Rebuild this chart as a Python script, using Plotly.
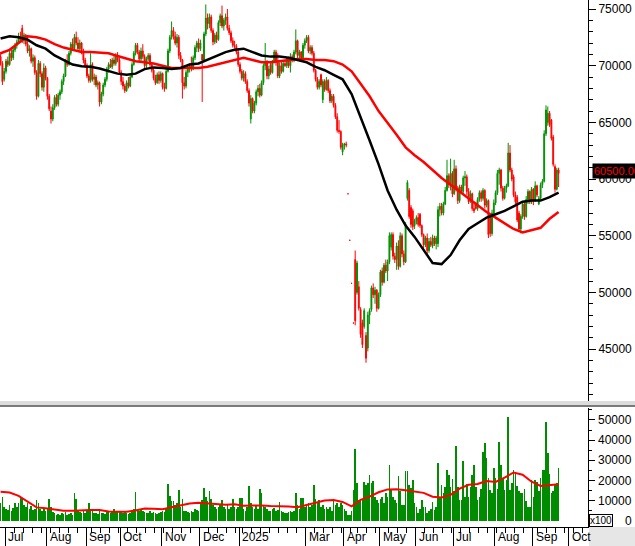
import pandas as pd
import plotly.graph_objects as go

# ---------------- data (prices in VND, volume in x100 shares) ----------------
holidays = ["2024-09-02", "2024-09-03", "2025-01-01", "2025-01-27", "2025-01-28",
            "2025-01-29", "2025-01-30", "2025-01-31", "2025-04-07", "2025-04-30",
            "2025-05-01", "2025-05-02", "2025-09-01", "2025-09-02"]

# (open, high, low, close) per trading day, grouped by month
jun24 = [(70800, 71200, 70000, 70200), (70200, 70400, 68300, 68600), (68800, 69800, 68600, 69500)]
jul24 = [(69500, 70600, 69300, 70400), (70400, 70800, 69900, 70100), (70100, 71300, 70000, 71100),
         (71100, 71400, 70400, 70700), (70700, 71600, 70500, 71400), (71400, 72000, 71200, 71800),
         (71800, 72300, 71500, 72100), (72100, 72900, 71900, 72600), (72600, 73000, 72000, 72300),
         (73300, 73600, 72000, 72200), (72200, 72900, 71900, 72700), (72700, 72800, 71700, 71900),
         (71900, 72700, 71100, 71300), (71300, 71800, 70800, 71500), (71500, 71600, 70200, 70400),
         (70400, 71000, 69900, 70700), (70700, 70900, 69200, 69400), (69400, 69600, 67000, 67300),
         (67300, 70500, 67200, 70200), (70200, 70400, 69000, 69300), (69300, 69500, 67800, 68100),
         (68100, 70200, 67700, 69800), (69800, 70000, 68700, 68900)]
aug24 = [(68900, 69000, 67000, 67300), (67300, 67500, 66000, 66200), (66000, 66400, 64900, 65300),
         (65300, 66600, 65100, 66300), (66300, 67400, 66100, 67200), (67200, 67500, 66400, 66600),
         (66600, 67600, 66400, 67400), (67400, 67900, 67000, 67700), (67700, 68800, 67500, 68600),
         (68600, 69300, 68300, 69100), (69100, 70600, 69000, 70400), (70400, 71000, 69900, 70100),
         (70100, 71300, 70000, 71100), (71100, 72100, 70900, 71900), (71900, 72400, 71300, 71500),
         (71500, 72800, 71400, 72500), (72500, 73000, 71800, 72000), (72000, 72500, 71300, 71500),
         (71500, 72300, 71300, 72000), (72000, 72100, 71000, 71200), (71200, 71500, 70200, 70500),
         (70500, 70700, 69800, 70000)]
sep24 = [(70000, 70200, 68900, 69100), (69100, 69300, 68500, 68700), (68700, 71100, 68500, 70100),
         (70100, 70300, 68600, 68800), (68800, 69300, 68300, 69000), (69000, 69200, 68100, 68300),
         (68300, 68700, 67900, 68500), (68500, 68600, 66400, 66800), (66800, 67700, 66600, 67500),
         (67500, 68500, 67300, 68300), (68300, 69000, 68100, 68800), (68800, 69900, 68600, 69700),
         (69700, 70300, 69400, 70100), (70100, 70600, 69800, 69900), (69900, 70700, 69700, 70500),
         (70500, 70900, 70000, 70200), (70200, 71100, 70000, 70900), (70900, 71200, 70300, 70500),
         (70500, 70700, 69200, 69400)]
oct24 = [(69400, 69600, 68300, 68600), (68600, 69000, 67900, 68200), (68200, 68400, 67600, 67800),
         (67800, 68700, 67700, 68500), (68500, 69000, 68000, 68200), (68200, 69200, 68100, 69000),
         (69000, 70300, 68900, 70100), (70100, 71300, 70000, 71100), (71100, 72000, 70900, 71800),
         (71800, 72000, 71000, 71200), (71200, 71400, 70400, 70600), (70600, 71600, 70400, 71300),
         (71300, 71900, 70600, 70800), (70800, 71000, 69800, 70000), (70000, 70800, 69800, 70600),
         (70600, 71100, 70400, 70900), (70900, 71100, 69900, 70100), (70100, 70300, 69400, 69600),
         (69600, 69800, 68700, 68900), (68900, 69200, 68300, 68500), (68500, 69400, 68400, 69200),
         (69200, 69500, 68400, 68700), (68700, 69500, 68500, 69300)]
nov24 = [(69300, 69400, 67900, 68100), (68100, 68500, 67700, 68000), (68000, 69800, 67900, 69500),
         (69500, 71500, 69400, 71300), (71300, 72700, 71100, 72500), (72500, 73900, 72300, 73100),
         (73100, 73400, 72300, 72600), (72600, 73000, 71800, 72000), (72000, 72800, 71600, 72500),
         (72500, 72700, 70600, 70900), (70900, 71200, 70300, 70500), (70500, 70600, 67100, 68500),
         (68500, 69000, 67900, 68200), (68200, 69600, 68000, 69400), (69400, 70000, 69000, 69800),
         (69800, 70200, 69400, 70000), (70000, 70800, 69500, 69700), (69700, 70900, 69600, 70700),
         (70700, 71800, 70500, 71600), (71600, 72200, 71200, 72000), (72000, 72400, 71200, 71500)]
dec24 = [(71500, 72300, 71300, 72000), (71000, 71000, 66800, 70500), (70500, 73000, 70400, 72800),
         (72800, 75400, 72600, 74200), (74200, 74600, 73200, 73700), (73700, 74600, 73300, 74300),
         (74300, 74500, 72900, 73100), (73100, 73300, 71800, 72100), (72100, 72900, 71900, 72700),
         (72700, 73000, 72000, 72300), (72300, 74000, 72200, 73800), (73800, 74600, 73500, 74400),
         (74400, 75300, 73300, 73500), (73500, 74200, 73100, 74000), (74000, 74600, 73600, 74300),
         (74300, 75000, 73100, 73300), (73300, 73600, 72700, 72900), (72900, 73100, 72000, 72200),
         (72200, 72500, 71600, 71800), (71800, 72200, 71500, 71700), (71700, 71900, 71000, 71200),
         (71200, 71500, 69900, 70100)]
jan25 = [(70100, 70300, 69300, 69500), (69500, 69700, 68700, 68900), (68900, 69600, 68600, 69300),
         (69300, 69500, 68400, 68600), (68600, 68800, 67600, 67800), (67800, 68000, 66400, 66700),
         (65300, 67400, 64900, 67100), (67100, 67200, 65800, 66000), (66000, 66900, 65800, 66700),
         (66700, 67900, 66500, 67700), (67700, 68300, 67300, 68000), (68000, 68400, 67200, 67400),
         (67400, 68700, 67300, 68500), (68500, 70200, 68300, 70000), (70000, 72000, 69600, 70300),
         (70300, 70500, 68800, 69100), (69100, 70000, 68800, 69700)]
feb25 = [(70100, 70300, 69200, 69400), (69400, 70500, 69300, 70300), (70300, 71400, 70200, 71200),
         (71200, 71400, 70000, 70300), (70300, 71100, 68900, 69100), (69100, 70300, 68900, 70000),
         (70000, 70500, 69300, 69500), (69500, 70400, 69400, 70200), (70200, 70500, 69900, 70000),
         (70000, 70700, 69800, 70500), (70500, 70800, 69800, 70000), (70000, 71100, 69400, 70800),
         (70800, 71000, 70300, 70500), (70500, 71400, 70300, 71200), (71200, 73200, 71000, 72200),
         (72200, 72300, 70600, 70900), (70900, 71400, 70500, 71200), (71200, 71300, 70500, 70700),
         (70700, 72000, 70600, 71800), (71800, 72400, 71500, 72200)]
mar25 = [(72200, 72700, 72000, 72500), (72500, 72700, 71100, 71300), (71300, 71800, 71000, 71600),
         (71600, 71800, 70900, 71100), (71100, 71300, 69400, 69600), (69600, 69700, 68600, 68800),
         (68800, 69000, 67900, 68100), (68100, 68800, 67900, 68600), (69200, 69300, 68100, 68300),
         (67000, 68800, 66700, 68600), (68600, 68800, 67700, 67900), (67900, 69000, 67800, 68700),
         (68700, 68800, 67600, 67800), (67800, 68000, 66700, 66900), (66900, 67500, 66700, 67300),
         (67300, 67500, 66300, 66500), (66500, 66700, 65300, 65500), (65500, 65800, 64100, 64300),
         (64300, 65200, 64000, 64200), (64200, 64300, 62600, 62800), (62400, 63200, 62100, 63000)]
apr25 = [(63000, 63200, 62600, 63100), (63100, 63300, 62800, 63000), (58700, 58700, 58700, 58700),
         (54600, 54600, 54600, 54600), (50800, 50800, 50800, 50800), (47300, 47300, 47300, 47300),
         (52900, 53700, 47100, 47500), (50000, 52800, 49800, 52600), (50500, 51000, 48400, 48600),
         (48500, 48700, 46000, 46300), (47300, 47600, 45100, 45400), (47000, 48600, 46800, 48400),
         (46200, 46500, 43800, 44200), (45100, 48300, 44800, 48000), (48000, 48600, 47200, 48400),
         (48500, 50600, 48300, 50400), (50400, 50800, 49500, 49800), (49800, 50500, 49000, 50200),
         (50200, 50300, 48300, 48600), (48600, 50000, 48500, 49800)]
may25 = [(49800, 52000, 49600, 51800), (51900, 52200, 50600, 50900), (50900, 52600, 50800, 52400),
         (52400, 52900, 51700, 51900), (51900, 52900, 51000, 52700), (52700, 55300, 52500, 55000),
         (54000, 55300, 53700, 55100), (55100, 55300, 52900, 53200), (53200, 53500, 52600, 52900),
         (52900, 54400, 52000, 54100), (54100, 54600, 52000, 52300), (52300, 55300, 52200, 55000),
         (55000, 55200, 53100, 53400), (53400, 53700, 52400, 52700), (52700, 56200, 52600, 56000),
         (58300, 59900, 58100, 59700), (59000, 59200, 56500, 56700), (57500, 57700, 55700, 56000),
         (57200, 57400, 55500, 55800), (55900, 56500, 55600, 56300)]
jun25 = [(56300, 56800, 56000, 56600), (56600, 57000, 55800, 56000), (56900, 57000, 55700, 55900),
         (55900, 56000, 54900, 55100), (55100, 55200, 53900, 54200), (54200, 55000, 54000, 54800),
         (54800, 55200, 53400, 53700), (53700, 54800, 53500, 54500), (54500, 54900, 54000, 54200),
         (54100, 55100, 53900, 54800), (54800, 55000, 54100, 54300), (54300, 55000, 53800, 54800),
         (54300, 57600, 54000, 57300), (57300, 57900, 56700, 57600), (57600, 57900, 56800, 57000),
         (57000, 58000, 56800, 57800), (57800, 59300, 57700, 59000), (59000, 61700, 58900, 60300),
         (60300, 60500, 59200, 59500), (59500, 61800, 59000, 60500), (60500, 60700, 58400, 58700)]
jul25 = [(58700, 61700, 58600, 60900), (60900, 61200, 58900, 59200), (59200, 59400, 57800, 58100),
         (58100, 59500, 57900, 59300), (59300, 59500, 58700, 58900), (58900, 60300, 58700, 60100),
         (60100, 60700, 59400, 60200), (60200, 60400, 58600, 58900), (58900, 59200, 57800, 58000),
         (58000, 59000, 57900, 58700), (58700, 58800, 57200, 57400), (57400, 58000, 57000, 57200),
         (57800, 58000, 57300, 57400), (57400, 58400, 57200, 58200), (58200, 59000, 58000, 58800),
         (58800, 59000, 58000, 58300), (58300, 59200, 58100, 59000), (59000, 59100, 57400, 57700),
         (57700, 58300, 57500, 58100), (58100, 58200, 54800, 55100), (56700, 56900, 54900, 55200),
         (55200, 57300, 55000, 57000), (57000, 58200, 56700, 57900)]
aug25 = [(57900, 59000, 57700, 58800), (58800, 60800, 58600, 60500), (60500, 61000, 59500, 60800),
         (60800, 60900, 58900, 59200), (59200, 59400, 58100, 58300), (58300, 59400, 58200, 59200),
         (59200, 59600, 58800, 59400), (59400, 63200, 59300, 62300), (62300, 63000, 60600, 60800),
         (60800, 61000, 59800, 60000), (60200, 60400, 58400, 58600), (58600, 58900, 57800, 58000),
         (58400, 58600, 56200, 56400), (57000, 57200, 55400, 55600), (55600, 56900, 55200, 56700),
         (56700, 58000, 56500, 57800), (57800, 58000, 56400, 56700), (56700, 58500, 56600, 58200),
         (58200, 59100, 57800, 58900), (58900, 59000, 57800, 58000), (58000, 59300, 57800, 59100)]
sep25 = [(59100, 59200, 57700, 58100), (58100, 59800, 58000, 59400), (59400, 59500, 58400, 58600),
         (57800, 58500, 57700, 58300), (58300, 59700, 58200, 59500), (59500, 60000, 59200, 59800),
         (59800, 64300, 59700, 64000), (64000, 66500, 63800, 66100), (65000, 66400, 64700, 65800),
         (65800, 66000, 64600, 64800), (65200, 65300, 63400, 63600), (63700, 63900, 61100, 61300),
         (61100, 61300, 58800, 59100), (59100, 61000, 59000, 60800), (60800, 61000, 59300, 60500)]

# daily volume (x100), grouped by month
vol_jun24 = [9000, 12000, 7000]
vol_jul24 = [6000, 5500, 8000, 5000, 6500, 8800, 7000, 9000, 12000, 11500, 8000, 7000, 9000,
             6000, 7500, 5500, 6000, 10500, 9000, 6000, 5000, 6500, 5000]
vol_aug24 = [6500, 11000, 7000, 4500, 4000, 3000, 3500, 3000, 4000, 3500, 4500, 3000, 3500,
             4000, 3000, 13700, 11000, 5000, 4500, 4000, 5000, 4000]
vol_sep24 = [5000, 9000, 6000, 5000, 4000, 4000, 3500, 6000, 4000, 4000, 3500, 4500, 4500,
             4000, 5000, 6000, 5000, 4500, 5000]
vol_oct24 = [4500, 4000, 5000, 4000, 3500, 4000, 5500, 6000, 14200, 6000, 5000, 5500, 5000,
             4500, 4000, 4000, 5000, 4000, 4500, 4000, 3500, 4000, 4500]
vol_nov24 = [5000, 4500, 6000, 18400, 12500, 10000, 10000, 8000, 9000, 15300, 7000, 11000,
             5000, 5000, 4500, 4000, 5000, 4500, 6000, 5500, 5000]
vol_dec24 = [9500, 10500, 16300, 12000, 10000, 15000, 11000, 8000, 7000, 6000, 7000, 8000,
             10400, 7000, 6000, 8000, 6000, 7000, 11000, 7000, 6000, 7000]
vol_jan25 = [11500, 11500, 6000, 5000, 7000, 17300, 9000, 7000, 6000, 8000, 6000, 15600,
             13700, 8000, 7000, 6000, 5000]
vol_feb25 = [5000, 6000, 6500, 5000, 5500, 9500, 5000, 4500, 4000, 4000, 4500, 5000, 4500,
             5000, 13700, 8000, 6000, 11500, 11500, 7000]
vol_mar25 = [8000, 9000, 7000, 8000, 17600, 10700, 9000, 10400, 7000, 8000, 6000, 7000, 6000,
             7000, 5000, 10400, 8000, 9000, 7000, 9000, 8000]
vol_apr25 = [6000, 5000, 3000, 3000, 5000, 15300, 35600, 18700, 10500, 10000, 11000, 19400,
             18000, 19000, 22700, 18700, 20000, 12000, 10400, 9000]
vol_may25 = [11000, 12000, 9000, 13700, 12000, 27800, 15300, 12000, 10400, 9000, 22100, 14800,
             8000, 8000, 24600, 24600, 17800, 16100, 20300, 9000]
vol_jun25 = [6900, 3800, 6000, 10400, 7000, 7100, 3800, 5000, 6000, 9500, 5400, 7100, 28900,
             12000, 17800, 14000, 17000, 25200, 22600, 17000, 20900]
vol_jul25 = [15000, 37200, 17000, 10400, 10400, 29500, 12000, 18400, 12000, 17000, 22600, 27500,
             17000, 10400, 12000, 15900, 34200, 38700, 31000, 21300, 15300, 13700, 26100]
vol_aug25 = [21300, 16000, 39100, 27500, 21300, 15300, 20300, 51600, 15300, 18700, 25200, 23400,
             17500, 15000, 13700, 13700, 15900, 10000, 7100, 7100, 20300]
vol_sep25 = [12000, 20300, 19400, 15000, 21300, 25200, 25200, 48900, 33600, 23400, 13700, 15000,
             17800, 18700, 26100]

# moving averages, one value every 5 trading days
ma_black = [72400, 72600, 72500, 72300, 71800, 71500, 70900, 70500, 70100, 69950, 69900, 69750,
            69500, 69300, 69200, 69300, 69700, 69850, 69800, 69700, 69800, 70100, 70200, 70550,
            70900, 71200, 71400, 71500, 71200, 70900, 70800, 70800, 70700, 70500, 70300, 69900,
            69600, 69200, 68800, 67500, 65500, 63400, 61300, 59000, 57300, 55900, 54900, 53700,
            52600, 52500, 53300, 54600, 55600, 56100, 56600, 56900, 57200, 57600, 58000, 58100,
            58100, 58400, 58800]
ma_red = [71100, 71400, 72000, 72600, 72500, 72300, 71900, 71600, 71400, 71200, 71200, 71150,
          71100, 70850, 70600, 70400, 70300, 70200, 70000, 69800, 69800, 69800, 69800, 69900,
          70100, 70250, 70500, 70700, 70500, 70300, 70300, 70400, 70500, 70600, 70600, 70500,
          70500, 70400, 70100, 69500, 68400, 67300, 66000, 65000, 63900, 62800, 62100, 61500,
          60800, 60100, 59500, 58900, 58300, 57700, 57100, 56600, 56100, 55600, 55300, 55500,
          55700, 56500, 57100]
vol_ma = [14500, 14100, 12400, 9400, 6700, 6300, 5600, 5000, 5100, 5400, 5400, 5400, 4700, 4600,
          4600, 5200, 6200, 6000, 5800, 6800, 7800, 8600, 9000, 8700, 8200, 8000, 8300, 7500,
          7600, 7700, 7400, 7400, 7200, 6800, 7900, 9300, 10100, 10400, 9400, 7200, 10400, 12000,
          14200, 15600, 15700, 15200, 14700, 13900, 12000, 11600, 12900, 16000, 17900, 18300,
          19800, 19300, 21400, 24000, 22900, 19400, 17300, 17700, 18200]

month_keys = ["2024-07", "2024-08", "2024-09", "2024-10", "2024-11", "2024-12", "2025-01",
              "2025-03", "2025-04", "2025-05", "2025-06", "2025-07", "2025-08", "2025-09", "2025-10"]
month_labels = ["Jul", "Aug", "Sep", "Oct", "Nov", "Dec", "2025", "Mar", "Apr", "May", "Jun",
                "Jul", "Aug", "Sep", "Oct"]
price_ticks = [45000, 50000, 55000, 60000, 65000, 70000, 75000]
vol_ticks = [0, 10000, 20000, 30000, 40000, 50000]
last_label = "60500.00"

# ---------------- assemble ----------------
months = [jun24, jul24, aug24, sep24, oct24, nov24, dec24, jan25, feb25, mar25, apr25, may25,
          jun25, jul25, aug25, sep25]
vol_months = [vol_jun24, vol_jul24, vol_aug24, vol_sep24, vol_oct24, vol_nov24, vol_dec24,
              vol_jan25, vol_feb25, vol_mar25, vol_apr25, vol_may25, vol_jun25, vol_jul25,
              vol_aug25, vol_sep25]
candles = [c for m in months for c in m]
volumes = [v for m in vol_months for v in m]
n = len(candles)
xs = list(range(n))
opens = [c[0] for c in candles]
highs = [c[1] for c in candles]
lows = [c[2] for c in candles]
closes = [c[3] for c in candles]
ma_x = xs[::5][:len(ma_black)]

cal = [d for d in pd.bdate_range("2024-06-26", "2025-10-15")
       if d.strftime("%Y-%m-%d") not in holidays]
month_pos = []
for key in month_keys:
    k = next(i for i, d in enumerate(cal) if d.strftime("%Y-%m") == key)
    month_pos.append(k - 0.5)
week_pos = [k - 0.5 for k in range(1, len(cal))
            if cal[k].isocalendar()[1] != cal[k - 1].isocalendar()[1]]

GREEN = "#009000"
VGREEN = "#008c00"
RED = "#ff0000"
FONT = "Liberation Sans, Arial, sans-serif"

W, H = 635, 546
ML, MR, MT, MB = 0, 47, 0, 19
PW, PH = W - ML - MR, H - MT - MB  # 588 x 527


def px_x(px):
    return (px - ML) / PW


def px_y(py):
    return (H - MB - py) / PH


fig = go.Figure()
fig.add_trace(go.Candlestick(
    x=xs, open=opens, high=highs, low=lows, close=closes,
    increasing=dict(line=dict(color=GREEN, width=1), fillcolor=GREEN),
    decreasing=dict(line=dict(color=RED, width=1), fillcolor=RED),
    whiskerwidth=0, xaxis="x", yaxis="y", hoverinfo="skip"))
fig.add_trace(go.Scatter(x=ma_x, y=ma_red, mode="lines", line=dict(color=RED, width=2.5),
                         xaxis="x", yaxis="y", hoverinfo="skip"))
fig.add_trace(go.Scatter(x=ma_x, y=ma_black, mode="lines", line=dict(color="black", width=2.5),
                         xaxis="x", yaxis="y", hoverinfo="skip"))
fig.add_trace(go.Bar(x=xs, y=volumes, marker=dict(color=VGREEN, line=dict(width=0)), width=0.85,
                     xaxis="x", yaxis="y2", hoverinfo="skip"))
fig.add_trace(go.Scatter(x=ma_x, y=vol_ma, mode="lines", line=dict(color=RED, width=2),
                         xaxis="x", yaxis="y2", hoverinfo="skip"))

annotations = []
for pos, lab in zip(month_pos, month_labels):
    annotations.append(dict(x=pos, xref="x", y=px_y(537), yref="paper", text=lab, showarrow=False,
                            xanchor="left", yanchor="middle", xshift=1,
                            font=dict(family=FONT, size=12, color="black")))
for v in vol_ticks:
    annotations.append(dict(x=px_x(634), xref="paper", y=v, yref="y2", text=str(v),
                            showarrow=False, xanchor="right", yanchor="middle",
                            font=dict(family=FONT, size=12, color="black")))
annotations.append(dict(x=px_x(589), xref="paper", y=px_y(520), yref="paper", text="x100",
                        showarrow=False, xanchor="left", yanchor="middle", bgcolor="white",
                        bordercolor="black", borderwidth=1, borderpad=0,
                        font=dict(family=FONT, size=10, color="black")))
annotations.append(dict(x=px_x(592), xref="paper", y=closes[-1], yref="y", yshift=2,
                        text=last_label, showarrow=False, xanchor="left", yanchor="middle",
                        bgcolor="black", borderpad=1,
                        font=dict(family=FONT, size=11, color=RED)))

shapes = [
    dict(type="rect", xref="paper", yref="paper", x0=0, x1=px_x(W + 5), y0=px_y(405),
         y1=px_y(401), fillcolor="#dcdcdc", line=dict(width=0), layer="above"),
    dict(type="line", xref="paper", yref="paper", x0=0, x1=px_x(W + 5), y0=px_y(406),
         y1=px_y(406), line=dict(color="#7a7a7a", width=2), layer="above"),
    dict(type="rect", xref="paper", yref="paper", x0=px_x(589), x1=px_x(W + 5), y0=px_y(H + 2),
         y1=px_y(527), fillcolor="#e6e6e6", line=dict(width=0), layer="above"),
]

fig.update_layout(
    width=W, height=H, margin=dict(l=ML, r=MR, t=MT, b=MB, pad=0),
    paper_bgcolor="white", plot_bgcolor="white", showlegend=False, bargap=0,
    font=dict(family=FONT, size=12, color="black"),
    xaxis=dict(domain=[0, 1], range=[(0 - 0.6) / 1.8, (PW - 0.6) / 1.8], anchor="y2",
               rangeslider=dict(visible=False), showgrid=False, zeroline=False,
               showline=True, linecolor="black", linewidth=1,
               tickmode="array", tickvals=month_pos, ticks="outside", ticklen=19,
               tickcolor="black", tickwidth=1, showticklabels=False,
               minor=dict(tickmode="array", tickvals=week_pos, ticks="outside", ticklen=5,
                          tickcolor="black", tickwidth=1, showgrid=False)),
    yaxis=dict(domain=[px_y(405), 1], range=[75000 - 396 * 88.2, 75000 + 9 * 88.2],
               side="right", anchor="x", showgrid=False, zeroline=False, showline=True,
               linecolor="black", linewidth=1, ticks="outside", ticklen=7, tickcolor="black",
               tickmode="array", tickvals=price_ticks, ticktext=[str(v) for v in price_ticks],
               tickfont=dict(family=FONT, size=12, color="black"),
               minor=dict(dtick=1000, tick0=0, ticks="outside", ticklen=4, tickcolor="black",
                          showgrid=False)),
    yaxis2=dict(domain=[0, px_y(408)], range=[-3000, 55900], side="right", anchor="x",
                showgrid=False, zeroline=False, showline=True, linecolor="black", linewidth=1,
                ticks="outside", ticklen=6, tickcolor="black", tickmode="array",
                tickvals=vol_ticks, showticklabels=False,
                minor=dict(dtick=5000, tick0=0, ticks="outside", ticklen=3, tickcolor="black",
                           showgrid=False)),
    annotations=annotations, shapes=shapes,
)

fig.write_html(
    "out.html",
    config={"displayModeBar": False, "staticPlot": True},
    post_script="document.documentElement.style.margin='0';document.body.style.margin='0';"
                "document.body.style.padding='0';document.body.style.overflow='hidden';",
)
